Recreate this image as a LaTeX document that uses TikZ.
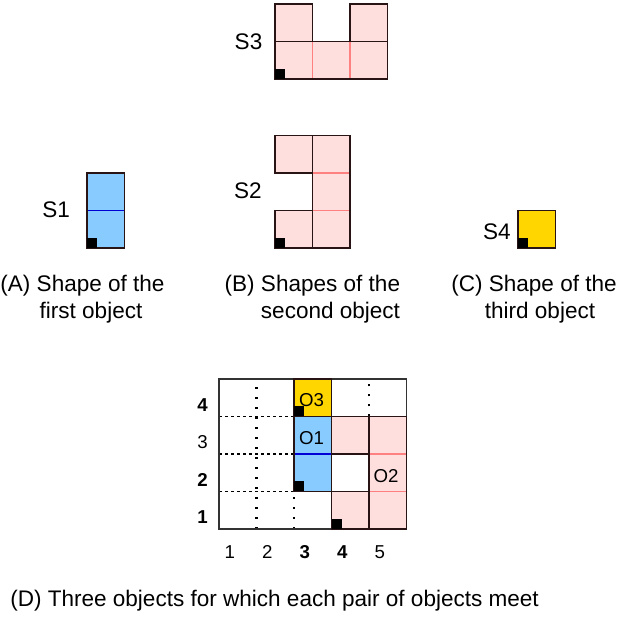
\documentclass[tikz,border=0pt]{standalone}
\usepackage{fontspec}
\setmainfont{Liberation Sans}
\definecolor{pinkfill}{RGB}{255,222,222}
\definecolor{pinkline}{RGB}{255,128,128}
\definecolor{bluefill}{RGB}{136,204,255}
\definecolor{blueline}{RGB}{0,0,215}
\definecolor{yellowfill}{RGB}{255,214,0}
\definecolor{edgecol}{RGB}{40,20,20}

\begin{document}
\begin{tikzpicture}[x=28.125pt, y=28.125pt,
  piece/.style={draw=edgecol, line width=1.1pt},
  innerred/.style={draw=pinkline, line width=1pt},
  innerblue/.style={draw=blueline, line width=1pt},
  anchorsq/.style={fill=black},
  biglbl/.style={font=\fontsize{16.9}{20}\selectfont},
  gridlbl/.style={font=\fontsize{14}{16}\selectfont, anchor=base},
  boldlbl/.style={font=\fontsize{14}{16}\selectfont\bfseries},
  dotline/.style={draw=black, line width=1.7pt, dash pattern=on 1.8pt off 5.7pt},
  dashline/.style={draw=black, line width=1pt, dash pattern=on 2.6pt off 1.9pt}]
\useasboundingbox (0,0) rectangle (17.173,16.453);

\begin{scope}[shift={(7.333,14.347)}]
\fill[pinkfill] (0,0) rectangle (3,1) (0,1) rectangle (1,2) (2,1) rectangle (3,2);
\draw[innerred] (1,0) -- (1,1) (2,0) -- (2,1);
\draw[piece] (0,0) rectangle (3,1) (0,1) rectangle (1,2) (2,1) rectangle (3,2);
\fill[anchorsq] (0,0) rectangle (0.267,0.267);
\end{scope}
\node[biglbl] (S3) at (6.627,15.33) {S3};

\begin{scope}[shift={(7.333,9.84)}]
\fill[pinkfill] (1,0) rectangle (2,3) (0,0) rectangle (1,1) (0,2) rectangle (1,3);
\draw[innerred] (1,1) -- (2,1) (1,2) -- (2,2);
\draw[piece] (1,0) rectangle (2,3) (0,0) rectangle (1,1) (0,2) rectangle (1,3);
\fill[anchorsq] (0,0) rectangle (0.267,0.267);
\end{scope}
\node[biglbl] (S2) at (6.613,11.36) {S2};

\begin{scope}[shift={(2.32,9.84)}]
\fill[bluefill] (0,0) rectangle (1,2);
\draw[innerblue] (0,1) -- (1,1);
\draw[piece] (0,0) rectangle (1,2);
\fill[anchorsq] (0,0) rectangle (0.267,0.267);
\end{scope}
\node[biglbl] (S1) at (1.5,10.86) {S1};

\begin{scope}[shift={(13.813,9.84)}]
\fill[yellowfill] (0,0) rectangle (1,1);
\draw[piece] (0,0) rectangle (1,1);
\fill[anchorsq] (0,0) rectangle (0.267,0.267);
\end{scope}
\node[biglbl] (S4) at (13.253,10.27) {S4};

\node[biglbl, anchor=base] (capA1) at (2.2,8.69) {(A) Shape of the};
\node[biglbl, anchor=base] (capA2) at (2.427,7.95) {first object};
\node[biglbl, anchor=base] (capB1) at (8.33,8.69) {(B) Shapes of the};
\node[biglbl, anchor=base] (capB2) at (8.813,7.95) {second object};
\node[biglbl, anchor=base] (capC1) at (14.24,8.69) {(C) Shape of the};
\node[biglbl, anchor=base] (capC2) at (14.4,7.95) {third object};

\begin{scope}[shift={(5.84,2.347)}]
\draw[dotline] (1,0) -- (1,4) (2,0) -- (2,1) (4,3) -- (4,4);
\draw[dashline] (0,1) -- (2,1) (0,2) -- (2,2) (0,3) -- (2,3);
\draw[draw=black!80, line width=1pt] (0,0) rectangle (5,4);
\fill[yellowfill] (2,3) rectangle (3,4);
\draw[piece] (2,3) rectangle (3,4);
\fill[bluefill] (2,1) rectangle (3,3);
\draw[innerblue] (2,2) -- (3,2);
\draw[piece] (2,1) rectangle (3,3);
\fill[pinkfill] (4,0) rectangle (5,3) (3,0) rectangle (4,1) (3,2) rectangle (4,3);
\draw[innerred] (4,1) -- (5,1) (4,2) -- (5,2);
\draw[piece] (4,0) rectangle (5,3) (3,0) rectangle (4,1) (3,2) rectangle (4,3);
\fill[anchorsq] (2,3) rectangle (2.267,3.267);
\fill[anchorsq] (2,1) rectangle (2.267,1.267);
\fill[anchorsq] (3,0) rectangle (3.267,0.267);
\node[gridlbl, anchor=center] (O3) at (2.467,3.44) {O3};
\node[gridlbl, anchor=center] (O1) at (2.467,2.413) {O1};
\node[gridlbl, anchor=center] (O2) at (4.453,1.4) {O2};
\node[gridlbl, boldlbl] (row4) at (-0.44,3.133) {4};
\node[gridlbl] (row3) at (-0.44,2.133) {3};
\node[gridlbl, boldlbl] (row2) at (-0.44,1.133) {2};
\node[gridlbl, boldlbl] (row1) at (-0.44,0.133) {1};
\node[gridlbl] (col1) at (0.29,-0.8) {1};
\node[gridlbl] (col2) at (1.29,-0.8) {2};
\node[gridlbl, boldlbl] (col3) at (2.29,-0.8) {3};
\node[gridlbl, boldlbl] (col4) at (3.29,-0.8) {4};
\node[gridlbl] (col5) at (4.29,-0.8) {5};
\end{scope}

\node[biglbl, anchor=base west, inner sep=0pt] (capD) at (0.267,0.267) {(D) Three objects for which each pair of objects meet};
\end{tikzpicture}
\end{document}
